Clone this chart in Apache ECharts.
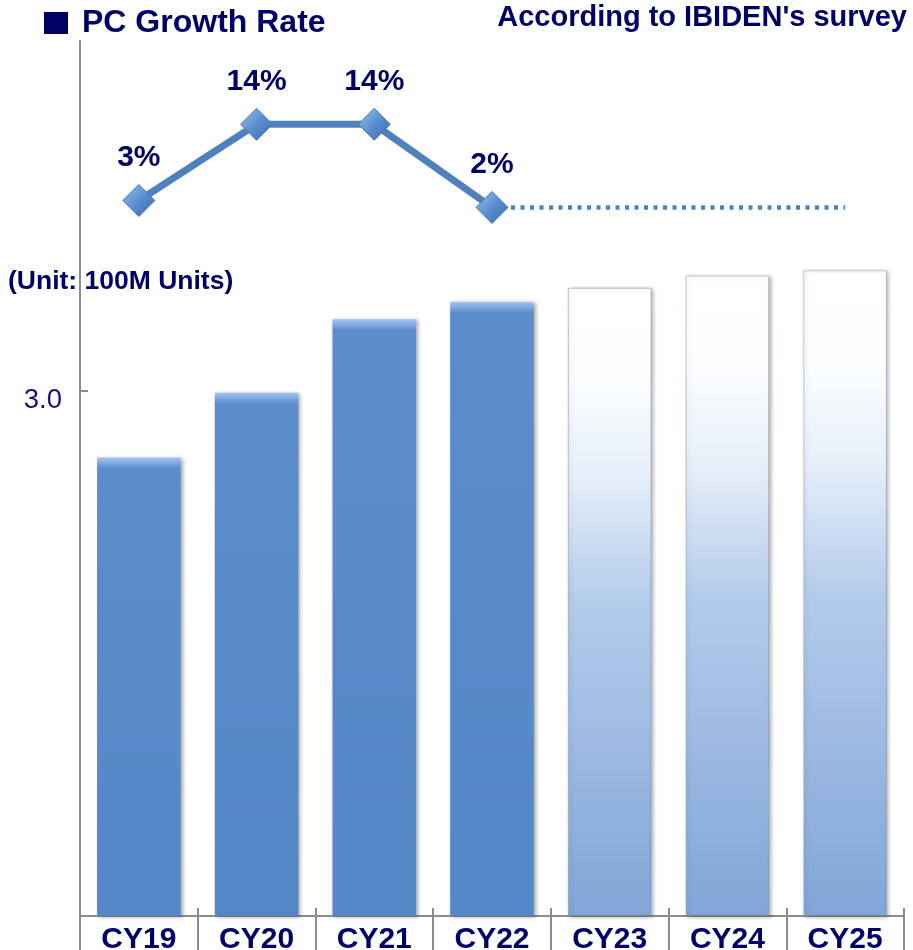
<!DOCTYPE html>
<html>
<head>
<meta charset="utf-8">
<title>PC Growth Rate</title>
<script src="https://cdn.jsdelivr.net/npm/echarts@6/dist/echarts.min.js"></script>
<style>
  html, body { margin: 0; padding: 0; background: #ffffff; }
  #chart { width: 913px; height: 950px; }
</style>
</head>
<body>
<div id="chart"></div>
<script>
// Calendar years on the category axis
const categories = ['CY19', 'CY20', 'CY21', 'CY22', 'CY23', 'CY24', 'CY25'];
// PC shipments, 100M units (CY23 onward are forecasts)
const shipments = [2.62, 2.99, 3.41, 3.51, 3.59, 3.66, 3.69];
const actualCount = 4;
// Year-on-year growth rate, % (actual years)
const growthRate = [3, 14, 14, 2, null, null, null];
// Flat dotted continuation after the last actual year
const growthTrend = [null, null, null, 2, 2, 2, 2];
// Value-axis tick that carries a label
const yTickLabels = [3];

const NAVY = '#000066';
const FONT = '"Liberation Sans", Arial, sans-serif';
const AXIS_GRAY = '#8c8c8c';

const PX_PER_UNIT = 175; // approx. plot height per unit, used for bevel size

function actualBarStyle(v) {
  const bevel = Math.min(0.2, 11 / (v * PX_PER_UNIT));
  return {
    color: new echarts.graphic.LinearGradient(0, 0, 0, 1, [
      { offset: 0, color: '#a6c6ee' },
      { offset: bevel * 0.45, color: '#82ace2' },
      { offset: bevel, color: '#5b8dcc' },
      { offset: 1, color: '#5487c7' }
    ]),
    shadowColor: 'rgba(0,0,0,0.35)',
    shadowBlur: 4,
    shadowOffsetX: 2,
    shadowOffsetY: 1
  };
}

function forecastBarStyle() {
  return {
    color: new echarts.graphic.LinearGradient(0, 0, 0, 1, [
      { offset: 0, color: '#ffffff' },
      { offset: 0.15, color: '#fbfdff' },
      { offset: 0.3, color: '#e6eff9' },
      { offset: 0.5, color: '#b4cceb' },
      { offset: 1, color: '#80a6d7' }
    ]),
    borderColor: 'rgba(130,140,160,0.45)',
    borderWidth: 1,
    shadowColor: 'rgba(0,0,0,0.3)',
    shadowBlur: 4,
    shadowOffsetX: 2,
    shadowOffsetY: 1
  };
}

const barData = shipments.map((v, i) => ({
  value: v,
  itemStyle: i < actualCount ? actualBarStyle(v) : forecastBarStyle()
}));

const chart = echarts.init(document.getElementById('chart'), null, { renderer: 'canvas' });

chart.setOption({
  animation: false,
  backgroundColor: '#ffffff',
  textStyle: { fontFamily: FONT },
  graphic: [
    { type: 'rect', shape: { x: 44, y: 12, width: 24, height: 22 }, style: { fill: NAVY } },
    {
      type: 'text', left: 82, top: 7,
      style: { text: 'PC Growth Rate', fill: NAVY, font: 'bold 32px ' + FONT }
    },
    {
      type: 'text', right: 6, top: 3,
      style: { text: "According to IBIDEN's survey", fill: NAVY, font: 'bold 29px ' + FONT }
    },
    {
      type: 'text', left: 8, top: 268, z: 10,
      style: { text: '(Unit: 100M Units)', fill: NAVY, font: 'bold 26.5px ' + FONT }
    }
  ],
  grid: [
    { left: 80, right: 9, top: 41, bottom: 34, containLabel: false, outerBoundsMode: 'none' },
    { left: 80, right: 9, top: 82.7, bottom: 728.7, containLabel: false, outerBoundsMode: 'none' }
  ],
  xAxis: [
    {
      type: 'category', gridIndex: 0, position: 'bottom', data: categories,
      axisLine: { show: true, lineStyle: { color: AXIS_GRAY, width: 2 } },
      axisTick: { show: true, inside: false, length: 40, lineStyle: { color: AXIS_GRAY, width: 2 } },
      axisLabel: { color: NAVY, fontWeight: 'bold', fontSize: 30, fontFamily: FONT, margin: 9 }
    },
    {
      type: 'category', gridIndex: 0, position: 'bottom', offset: 0, data: categories,
      axisLine: { show: false },
      axisTick: { show: true, inside: true, length: 8, lineStyle: { color: AXIS_GRAY, width: 2 } },
      axisLabel: { show: false }
    },
    {
      type: 'category', gridIndex: 1, data: categories, show: false
    }
  ],
  yAxis: [
    {
      type: 'value', gridIndex: 0, min: 0, max: 5, interval: 1,
      axisLine: { show: true, lineStyle: { color: AXIS_GRAY, width: 2 } },
      axisTick: { show: true, inside: true, length: 8, customValues: yTickLabels, lineStyle: { color: AXIS_GRAY, width: 2 } },
      axisLabel: {
        show: true, customValues: yTickLabels,
        formatter: v => v.toFixed(1),
        color: '#14147a', fontSize: 27.5, fontFamily: FONT, margin: 18,
        verticalAlign: 'top', lineHeight: 18
      },
      splitLine: { show: false }
    },
    {
      type: 'value', gridIndex: 1, min: 0, max: 20, show: false, splitLine: { show: false }
    }
  ],
  series: [
    {
      type: 'bar', xAxisIndex: 0, yAxisIndex: 0,
      data: barData, barWidth: '71%'
    },
    {
      type: 'line', xAxisIndex: 2, yAxisIndex: 1,
      data: growthTrend, symbol: 'none', z: 3,
      lineStyle: { color: '#4f81bd', width: 4.5, type: [4, 5.5], cap: 'butt' }
    },
    {
      type: 'line', xAxisIndex: 2, yAxisIndex: 1,
      data: growthRate, z: 4,
      symbol: 'diamond', symbolSize: 32,
      lineStyle: { color: '#4f81bd', width: 7 },
      itemStyle: {
        color: new echarts.graphic.LinearGradient(0, 0, 1, 1, [
          { offset: 0, color: '#9cc2ee' },
          { offset: 0.5, color: '#5a8fd0' },
          { offset: 1, color: '#3a69a6' }
        ]),
        borderColor: '#4a78b4', borderWidth: 1
      },
      label: {
        show: true, position: 'top', distance: 11,
        formatter: p => p.value + '%',
        color: NAVY, fontWeight: 'bold', fontSize: 30, fontFamily: FONT
      }
    }
  ]
});
</script>
</body>
</html>
